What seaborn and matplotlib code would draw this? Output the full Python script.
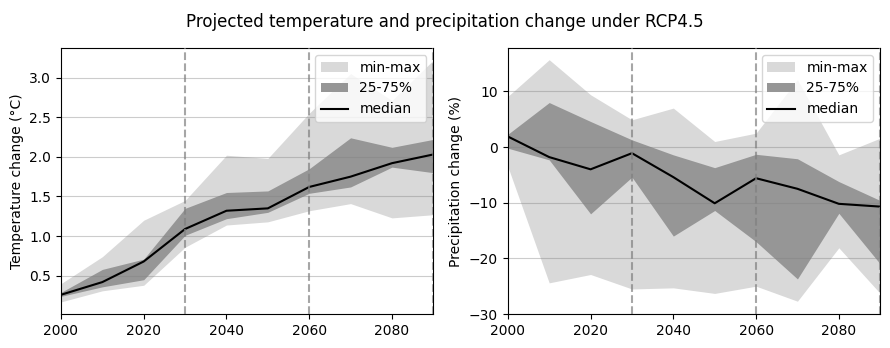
import matplotlib
matplotlib.use("Agg")
import matplotlib.pyplot as plt
import seaborn as sns
import pandas as pd

years = [2000, 2010, 2020, 2030, 2040, 2050, 2060, 2070, 2080, 2090]

# Temperature change (°C)
temp_min = [0.17, 0.31, 0.38, 0.86, 1.14, 1.18, 1.32, 1.41, 1.23, 1.27]
temp_max = [0.40, 0.74, 1.20, 1.45, 2.02, 1.98, 2.55, 3.05, 2.71, 3.22]
temp_p25 = [0.24, 0.36, 0.45, 1.01, 1.22, 1.30, 1.54, 1.62, 1.87, 1.80]
temp_p75 = [0.29, 0.58, 0.71, 1.35, 1.55, 1.57, 1.85, 2.24, 2.12, 2.22]
temp_med = [0.26, 0.42, 0.68, 1.09, 1.32, 1.35, 1.62, 1.75, 1.92, 2.03]

# Precipitation change (%)
prec_min = [-3.5, -24.4, -22.9, -25.5, -25.3, -26.3, -25.0, -27.7, -18.1, -26.3]
prec_max = [9.1, 15.7, 9.4, 4.9, 7.0, 1.0, 2.5, 12.1, -1.4, 1.6]
prec_p25 = [-0.2, -2.3, -12.0, -5.4, -16.0, -11.4, -17.0, -23.7, -11.9, -21.0]
prec_p75 = [2.3, 8.0, 4.6, 1.3, -1.4, -3.7, -1.3, -2.1, -6.2, -9.6]
prec_med = [1.9, -1.8, -4.0, -1.1, -5.4, -10.1, -5.6, -7.5, -10.2, -10.7]

period_marks = [2030, 2060, 2090]

fig, axes = plt.subplots(1, 2, figsize=(8.9, 3.48), dpi=100)
fig.subplots_adjust(left=0.0685, right=0.989, bottom=0.0977, top=0.862, wspace=0.2)

panels = [
    (axes[0], temp_min, temp_max, temp_p25, temp_p75, temp_med, "Temperature change (°C)", None),
    (axes[1], prec_min, prec_max, prec_p25, prec_p75, prec_med, "Precipitation change (%)", (-30, 17.8)),
]

for ax, lo, hi, q1, q3, med, ylabel, ylim in panels:
    ax.fill_between(years, lo, hi, color="#d9d9d9", linewidth=0, label="min-max")
    ax.fill_between(years, q1, q3, color="#969696", linewidth=0, label="25-75%")
    df = pd.DataFrame({"year": years, "value": med})
    sns.lineplot(data=df, x="year", y="value", ax=ax, color="black",
                 linewidth=1.5, label="median")
    for yr in period_marks:
        ax.axvline(yr, color="gray", linestyle="--", alpha=0.7, linewidth=1.5, zorder=3)
    ax.grid(axis="y", color="gray", alpha=0.4)
    ax.set_xlim(2000, 2090)
    if ylim is not None:
        ax.set_ylim(*ylim)
    ax.set_xlabel("")
    ax.set_ylabel(ylabel)
    ax.legend(loc="upper right")

fig.suptitle("Projected temperature and precipitation change under RCP4.5",
             fontsize=12, y=0.962)
fig.savefig("out.png", dpi=100)
